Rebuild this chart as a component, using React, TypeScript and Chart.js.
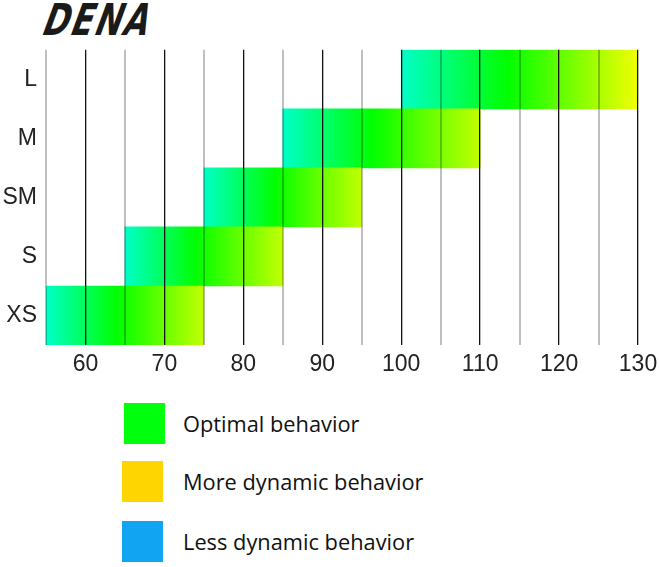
import React, { useEffect, useRef } from "react";
import { Chart, registerables } from "chart.js";

Chart.register(...registerables);

const sizes = ["L", "M", "SM", "S", "XS"];
const rangeStart = [100, 85, 75, 65, 55];
const rangeEnd = [130, 110, 95, 85, 75];
const xMin = 55;
const xMax = 130;
const xStep = 5;

const legendItems = [
  { label: "Optimal behavior", color: "#00ff0c", top: 403, left: 124 },
  { label: "More dynamic behavior", color: "#ffd500", top: 461, left: 122 },
  { label: "Less dynamic behavior", color: "#10a4f3", top: 521, left: 122 },
];

const App: React.FC = () => {
  const canvasRef = useRef<HTMLCanvasElement>(null);
  const chartRef = useRef<Chart | null>(null);

  useEffect(() => {
    if (!canvasRef.current) return;
    const ctx = canvasRef.current.getContext("2d");
    if (!ctx) return;
    if (chartRef.current) chartRef.current.destroy();

    chartRef.current = new Chart(ctx, {
      type: "bar",
      data: {
        labels: sizes,
        datasets: [
          {
            data: sizes.map((_, i) => [rangeStart[i], rangeEnd[i]]),
            backgroundColor: (c: any) => {
              const chart = c.chart;
              const xs = chart.scales?.x;
              const i = c.dataIndex;
              if (!xs || i === undefined) return "#00ff00";
              const x0 = xs.getPixelForValue(rangeStart[i]);
              const x1 = xs.getPixelForValue(rangeEnd[i]);
              if (!isFinite(x0) || !isFinite(x1) || x0 === x1) return "#00ff00";
              const g = chart.ctx.createLinearGradient(x0, 0, x1, 0);
              g.addColorStop(0, "#00ffc8");
              g.addColorStop(0.45, "#00ff00");
              g.addColorStop(1, i === 0 ? "#f2ff00" : "#c2ff00");
              return g;
            },
            borderWidth: 0,
            barPercentage: 1,
            categoryPercentage: 1,
          },
        ],
      },
      options: {
        indexAxis: "y",
        animation: false,
        responsive: false,
        maintainAspectRatio: false,
        layout: { padding: { top: 9, right: 21, bottom: 0, left: 0 } },
        plugins: {
          legend: { display: false },
          tooltip: { enabled: false },
        },
        scales: {
          x: {
            type: "linear",
            min: xMin,
            max: xMax,
            afterFit: (s: any) => {
              s.height = 40;
              s.paddingLeft = 0;
              s.paddingRight = 0;
            },
            ticks: {
              stepSize: xStep,
              autoSkip: false,
              maxRotation: 0,
              padding: 6,
              color: "#222",
              font: { family: "'Liberation Sans', Arial, sans-serif", size: 23 },
              callback: (v: any) => (Number(v) % 10 === 0 ? String(v) : ""),
            },
            grid: {
              z: 1,
              drawTicks: false,
              color: (c: any) =>
                c.tick && c.tick.value % 10 === 0 ? "#111111" : "rgba(0,0,0,0.25)",
              lineWidth: (c: any) => (c.tick && c.tick.value % 10 === 0 ? 1.3 : 2),
            },
            border: { display: false },
          },
          y: {
            afterFit: (s: any) => {
              s.width = 46;
            },
            ticks: {
              padding: 9,
              color: "#222",
              font: { family: "'Liberation Sans', Arial, sans-serif", size: 23 },
            },
            grid: { display: false, drawTicks: false },
            border: { display: false },
          },
        },
      },
    });

    return () => {
      if (chartRef.current) {
        chartRef.current.destroy();
        chartRef.current = null;
      }
    };
  }, []);

  return (
    <div
      style={{
        position: "absolute",
        left: 0,
        top: 0,
        width: 659,
        height: 567,
        background: "#fff",
        overflow: "hidden",
      }}
    >
      <div
        style={{
          position: "absolute",
          left: 36,
          top: -5,
          fontFamily: "'DejaVu Sans', sans-serif",
          fontWeight: 900,
          fontSize: 44,
          lineHeight: "50px",
          color: "#1a1a1a",
          transform: "skewX(-20deg) scaleX(0.72)",
          transformOrigin: "left bottom",
          letterSpacing: 3,
        }}
      >
        DENA
      </div>
      <canvas
        ref={canvasRef}
        width={659}
        height={358}
        style={{ position: "absolute", left: 0, top: 27, width: 659, height: 358 }}
      />
      {legendItems.map((item) => (
        <React.Fragment key={item.label}>
          <div
            style={{
              position: "absolute",
              left: item.left,
              top: item.top,
              width: 41,
              height: 41,
              background: item.color,
            }}
          />
          <div
            style={{
              position: "absolute",
              left: 183,
              top: item.top + 7,
              fontFamily: "'Open Sans', sans-serif",
              fontSize: 21.8,
              lineHeight: "28px",
              color: "#111",
              whiteSpace: "nowrap",
            }}
          >
            {item.label}
          </div>
        </React.Fragment>
      ))}
    </div>
  );
};

export default App;
